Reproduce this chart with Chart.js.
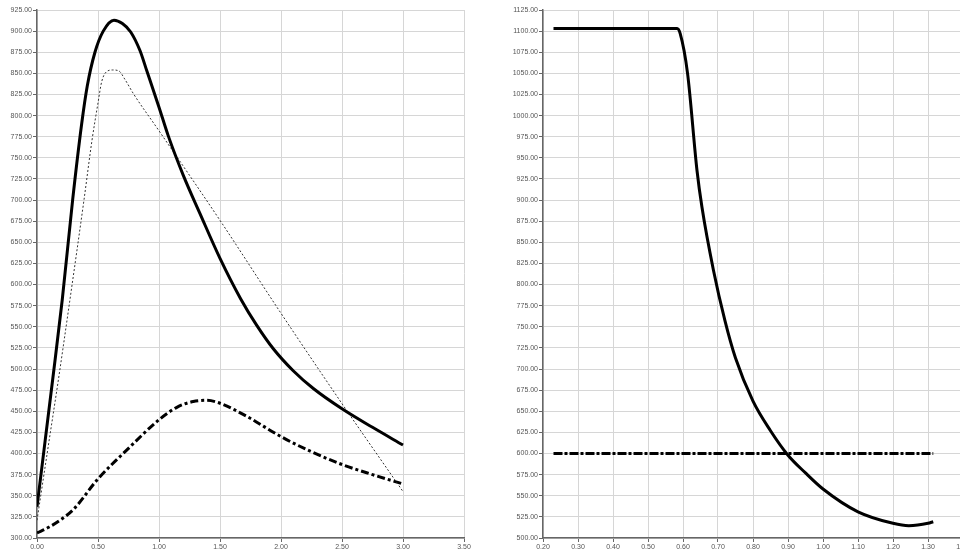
<!DOCTYPE html>
<html>
<head>
<meta charset="utf-8">
<script src="https://cdn.jsdelivr.net/npm/chart.js@4/dist/chart.umd.min.js"></script>
<style>
  html, body { margin: 0; padding: 0; background: #fff; overflow: hidden; width: 960px; height: 551px; }
  #left { position: absolute; left: 0; top: 0; }
  #right { position: absolute; left: 480px; top: 0; }
</style>
</head>
<body>
<canvas id="left" width="476" height="551"></canvas>
<canvas id="right" width="495" height="551"></canvas>
<script>
// ---------- Left chart data ----------
const leftSolidX = [0, 0.128, 0.207, 0.292, 0.366, 0.412, 0.475, 0.543, 0.631, 0.7, 0.768, 0.844, 0.9, 1.0, 1.076, 1.2, 1.336, 1.5, 1.67, 1.8, 1.937, 2.1, 2.265, 2.5, 2.75, 3.0];
const leftSolidY = [337, 487, 582, 700, 790, 835, 875, 900, 913, 909, 899, 877, 853, 810, 776, 729, 684, 631, 583, 552, 524, 498, 477, 453, 431, 410];

const leftDottedX = [0, 0.1, 0.175, 0.27, 0.385, 0.45, 0.5, 0.53, 0.57, 0.62, 0.67, 0.72, 0.79, 1.0, 1.5, 2.0, 2.5, 2.648, 3.0];
const leftDottedY = [321, 416, 487, 582, 700, 770, 815, 840, 852, 854, 853, 843, 826, 782, 676, 566, 459, 428, 355];

const leftDashDotX = [0, 0.1, 0.189, 0.3, 0.5, 0.735, 1.0, 1.15, 1.281, 1.39, 1.5, 1.719, 2.0, 2.25, 2.5, 2.75, 3.0];
const leftDashDotY = [306, 313, 321, 334, 370, 404, 440, 455, 461.5, 463, 459.5, 444, 420, 402, 387, 375, 364];

const leftXTicks = { min: 0, max: 3.5, step: 0.5 };
const leftYTicks = { min: 300, max: 925, step: 25 };

// ---------- Right chart data ----------
const rightSolidX = [0.23, 0.583, 0.592, 0.613, 0.64, 0.654, 0.687, 0.72, 0.75, 0.8, 0.85, 0.9, 0.95, 1.0, 1.1, 1.2, 1.245, 1.3, 1.315];
const rightSolidY = [1103, 1103, 1097, 1050, 935, 892, 817, 757, 713, 662, 627, 598, 577, 558, 531, 517.4, 514.6, 517.4, 519.3];

const rightDashDotX = [0.23, 1.315];
const rightDashDotY = [600, 600];

const rightXTicks = { min: 0.2, max: 1.4, step: 0.1 };
const rightYTicks = { min: 500, max: 1125, step: 25 };

// ---------- helpers ----------
function pts(xs, ys) { return xs.map((x, i) => ({ x: x, y: ys[i] })); }

Chart.defaults.font.family = "'Liberation Sans', Arial, sans-serif";
Chart.defaults.font.size = 7;
Chart.defaults.color = '#555';

const solidStyle = { borderColor: '#000', borderWidth: 3, pointRadius: 0, showLine: true, cubicInterpolationMode: 'monotone' };
const dottedStyle = { borderColor: '#333', borderWidth: 1, borderDash: [2, 2], pointRadius: 0, showLine: true, cubicInterpolationMode: 'monotone' };
const dashDotStyle = { borderColor: '#000', borderWidth: 3, borderDash: [8, 3, 3, 3], pointRadius: 0, showLine: true, cubicInterpolationMode: 'monotone' };

function axis(t, fit, isY) {
  return {
    type: 'linear',
    min: t.min, max: t.max,
    ticks: {
      stepSize: t.step,
      padding: 1,
      color: '#555',
      font: { size: 7 },
      maxRotation: 0,
      autoSkip: false,
      callback: v => Number(v).toFixed(2)
    },
    grid: { color: '#d6d6d6', lineWidth: 1, tickColor: '#666', tickLength: 4 },
    border: { color: '#666', width: 1.5 },
    afterFit: s => { if (isY) s.width = fit; else s.height = fit; }
  };
}

function makeChart(id, datasets, xt, yt, yWidth, padRight) {
  return new Chart(document.getElementById(id), {
    type: 'scatter',
    data: { datasets: datasets },
    options: {
      responsive: false,
      devicePixelRatio: 1,
      animation: false,
      layout: { padding: { left: 0, right: padRight, top: 10, bottom: 0 } },
      plugins: { legend: { display: false }, tooltip: { enabled: false } },
      scales: {
        x: axis(xt, 13, false),
        y: axis(yt, yWidth, true)
      }
    }
  });
}

makeChart('left', [
  Object.assign({ data: pts(leftSolidX, leftSolidY) }, solidStyle),
  Object.assign({ data: pts(leftDottedX, leftDottedY) }, dottedStyle),
  Object.assign({ data: pts(leftDashDotX, leftDashDotY) }, dashDotStyle)
], leftXTicks, leftYTicks, 37, 12);

makeChart('right', [
  Object.assign({ data: pts(rightSolidX, rightSolidY) }, solidStyle),
  Object.assign({ data: pts(rightDashDotX, rightDashDotY) }, dashDotStyle, { borderDash: [9, 2, 3, 2] })
], rightXTicks, rightYTicks, 63, 12);
</script>
</body>
</html>
